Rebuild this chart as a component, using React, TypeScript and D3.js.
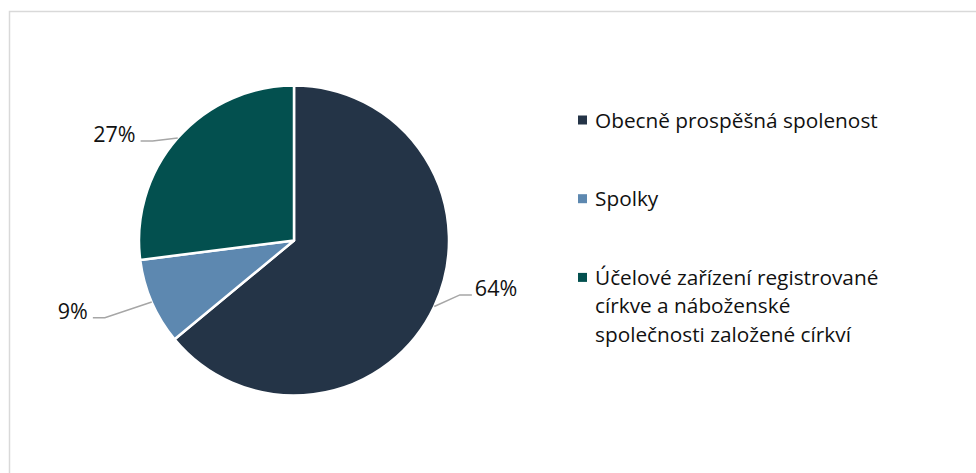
import React from "react";
import * as d3 from "d3";

const categories = [
  "Obecně prospěšná spolenost",
  "Spolky",
  "Účelové zařízení registrované církve a náboženské společnosti založené církví",
];
const values = [64, 9, 27];
const valueLabels = ["64%", "9%", "27%"];
const legendLines = [
  ["Obecně prospěšná spolenost"],
  ["Spolky"],
  ["Účelové zařízení registrované", "církve a náboženské", "společnosti založené církví"],
];

const COLORS = ["#243447", "#5d88b0", "#03504f"];
const FONT = "'Open Sans', 'Liberation Sans', sans-serif";

// label anchor layout (angle in degrees clockwise from top, radius factor)
const LABEL_LAYOUT = [
  { a: 107, rf: 1.2 },
  { a: 249, rf: 1.39 },
  { a: 303, rf: 1.18 },
];

export default function App() {
  const W = 976;
  const H = 473;
  const cx = 294;
  const cy = 240.5;
  const r = 155;

  const pie = d3.pie<number>().sort(null).value((d) => d)(values);
  const arc = d3.arc<d3.PieArcDatum<number>>().innerRadius(0).outerRadius(r);

  const polar = (angRad: number, rad: number): [number, number] => [
    cx + rad * Math.sin(angRad),
    cy - rad * Math.cos(angRad),
  ];

  const legendX = 578;
  const legendY0 = 120;
  const legendStep = 78.7;
  const lineH = 28.5;

  return (
    <svg
      width={W}
      height={H}
      style={{ position: "absolute", left: 0, top: 0, background: "#fff" }}
    >
      <rect x={9.5} y={11.5} width={W + 10} height={H + 10} fill="#fff" stroke="#d9d9d9" strokeWidth={1.5} />
      <g transform={`translate(${cx},${cy})`}>
        {pie.map((p, i) => (
          <path key={i} d={arc(p) || ""} fill={COLORS[i]} stroke="#fff" strokeWidth={2.5} strokeLinejoin="round" />
        ))}
      </g>
      {pie.map((p, i) => {
        const mid = (p.startAngle + p.endAngle) / 2;
        const [sx, sy] = polar(mid, r);
        const lay = LABEL_LAYOUT[i];
        const [ex, ey] = polar((lay.a * Math.PI) / 180, r * lay.rf);
        const right = ex > cx;
        const elbowX = right ? ex - 12 : ex + 12;
        const tx = right ? ex + 3 : ex - 5;
        return (
          <g key={i}>
            <polyline
              points={`${sx},${sy} ${elbowX},${ey} ${ex},${ey}`}
              fill="none"
              stroke="#a6a6a6"
              strokeWidth={1.5}
            />
            <text
              x={tx}
              y={ey + 1}
              textAnchor={right ? "start" : "end"}
              fontFamily={FONT}
              fontSize={21.5}
              fill="#111"
            >
              {valueLabels[i]}
            </text>
          </g>
        );
      })}
      {categories.map((c, i) => {
        const y = legendY0 + i * legendStep;
        return (
          <g key={c}>
            <rect x={legendX} y={y - 4.5} width={9} height={9} fill={COLORS[i]} />
            {legendLines[i].map((ln, j) => (
              <text
                key={j}
                x={legendX + 17}
                y={y + 7.5 + j * lineH}
                fontFamily={FONT}
                fontSize={20.8}
                fill="#111"
              >
                {ln}
              </text>
            ))}
          </g>
        );
      })}
    </svg>
  );
}
